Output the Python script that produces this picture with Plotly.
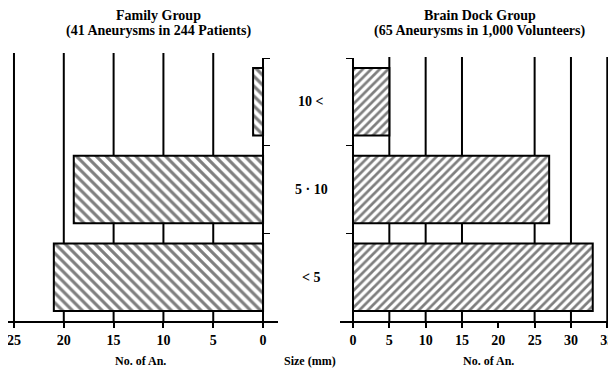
import plotly.graph_objects as go

categories = ["< 5", "5 - 10", "10 <"]
center_labels = ["< 5", "5 · 10", "10 <"]
family_counts = [21, 19, 1]
brain_dock_counts = [33, 27, 5]
left_ticks = [0, 5, 10, 15, 20, 25]
right_ticks = [0, 5, 10, 15, 20, 25, 30, 35]
left_grid = [5, 10, 15, 20, 25]
right_grid = [5, 10, 15, 25, 30, 35]

# page body margin offsets the figure by 8px; size figure to fill the rest
OFF = 8
W, H = 616 - OFF, 370 - OFF
FONT = "Liberation Serif"

def px(x):
    return (x - OFF) / W

def py(y):
    return (370 - y) / H

fig = go.Figure()

fig.add_trace(go.Bar(
    y=categories, x=family_counts, orientation="h",
    xaxis="x", yaxis="y", width=0.77,
    marker=dict(color="white", line=dict(color="black", width=2),
                pattern=dict(shape="\\", size=7, solidity=0.45,
                             fgcolor="black", bgcolor="white")),
    showlegend=False, hoverinfo="x+y",
))
fig.add_trace(go.Bar(
    y=categories, x=brain_dock_counts, orientation="h",
    xaxis="x2", yaxis="y2", width=0.77,
    marker=dict(color="white", line=dict(color="black", width=2),
                pattern=dict(shape="/", size=6, solidity=0.45,
                             fgcolor="black", bgcolor="white")),
    showlegend=False, hoverinfo="x+y",
))

ydom = [py(321), py(58)]
tickfont = dict(family=FONT, size=14, color="black")

fig.update_layout(
    width=W, height=H,
    margin=dict(l=0, r=0, t=0, b=0),
    paper_bgcolor="white", plot_bgcolor="rgba(0,0,0,0)",
    bargap=0.23,
    xaxis=dict(domain=[px(8), px(278)], range=[25.6, -1.5],
               tickvals=left_ticks, ticktext=[f"<b>{v}</b>" for v in left_ticks],
               ticks="outside", ticklen=5, tickwidth=2, tickcolor="black",
               ticklabeloverflow="allow",
               showline=True, linecolor="black", linewidth=2,
               showgrid=False, zeroline=False, tickfont=tickfont,
               anchor="y", fixedrange=True),
    yaxis=dict(domain=ydom, anchor="free", position=px(263), side="right",
               type="category", categoryorder="array", categoryarray=categories,
               range=[-0.5, 2.5],
               showticklabels=False, ticks="outside", tickson="boundaries",
               ticklen=6, tickwidth=1, tickcolor="black",
               showline=True, linecolor="black", linewidth=2,
               showgrid=False, zeroline=False, fixedrange=True),
    xaxis2=dict(domain=[px(340), 1.0], range=[-1.79, 36.2],
                tickvals=right_ticks, ticktext=[f"<b>{v}</b>" for v in right_ticks],
                ticks="outside", ticklen=5, tickwidth=2, tickcolor="black",
                ticklabeloverflow="allow",
                showline=True, linecolor="black", linewidth=2,
                showgrid=False, zeroline=False, tickfont=tickfont,
                anchor="y2", fixedrange=True),
    yaxis2=dict(domain=ydom, anchor="free", position=px(353), side="left",
                type="category", categoryorder="array", categoryarray=categories,
                range=[-0.5, 2.5],
                showticklabels=False, ticks="outside", tickson="boundaries",
                ticklen=6, tickwidth=1, tickcolor="black",
                showline=True, linecolor="black", linewidth=2,
                showgrid=False, zeroline=False, fixedrange=True),
)

shapes = []
for g in left_grid:
    shapes.append(dict(type="line", xref="x", yref="paper", x0=g, x1=g,
                       y0=ydom[0], y1=py(53), layer="below",
                       line=dict(color="black", width=2)))
for g in right_grid:
    shapes.append(dict(type="line", xref="x2", yref="paper", x0=g, x1=g,
                       y0=ydom[0], y1=py(57), layer="below",
                       line=dict(color="black", width=2)))
fig.update_layout(shapes=shapes)

ann = []
titles = [
    (px(158), "<b>Family Group</b>", 15),
    (px(158), "<b>(41 Aneurysms in 244 Patients)</b>", 31),
    (px(480), "<b>Brain Dock Group</b>", 15),
    (px(480), "<b>(65 Aneurysms in 1,000 Volunteers)</b>", 31),
]
for x, t, y in titles:
    ann.append(dict(x=x, y=py(y), xref="paper", yref="paper", text=t,
                    showarrow=False, xanchor="center", yanchor="middle",
                    font=dict(family=FONT, size=14, color="black")))
for c, lab in zip(categories, center_labels):
    ann.append(dict(x=px(311), y=c, xref="paper", yref="y", text=f"<b>{lab}</b>",
                    showarrow=False, xanchor="center", yanchor="middle",
                    font=dict(family=FONT, size=14, color="black")))
for x, t in [(px(140), "<b>No. of An.</b>"), (px(310), "<b>Size (mm)</b>"),
             (px(488), "<b>No. of An.</b>")]:
    ann.append(dict(x=x, y=py(361), xref="paper", yref="paper", text=t,
                    showarrow=False, xanchor="center", yanchor="middle",
                    font=dict(family=FONT, size=12, color="black")))
fig.update_layout(annotations=ann)

fig.write_html("out.html")
